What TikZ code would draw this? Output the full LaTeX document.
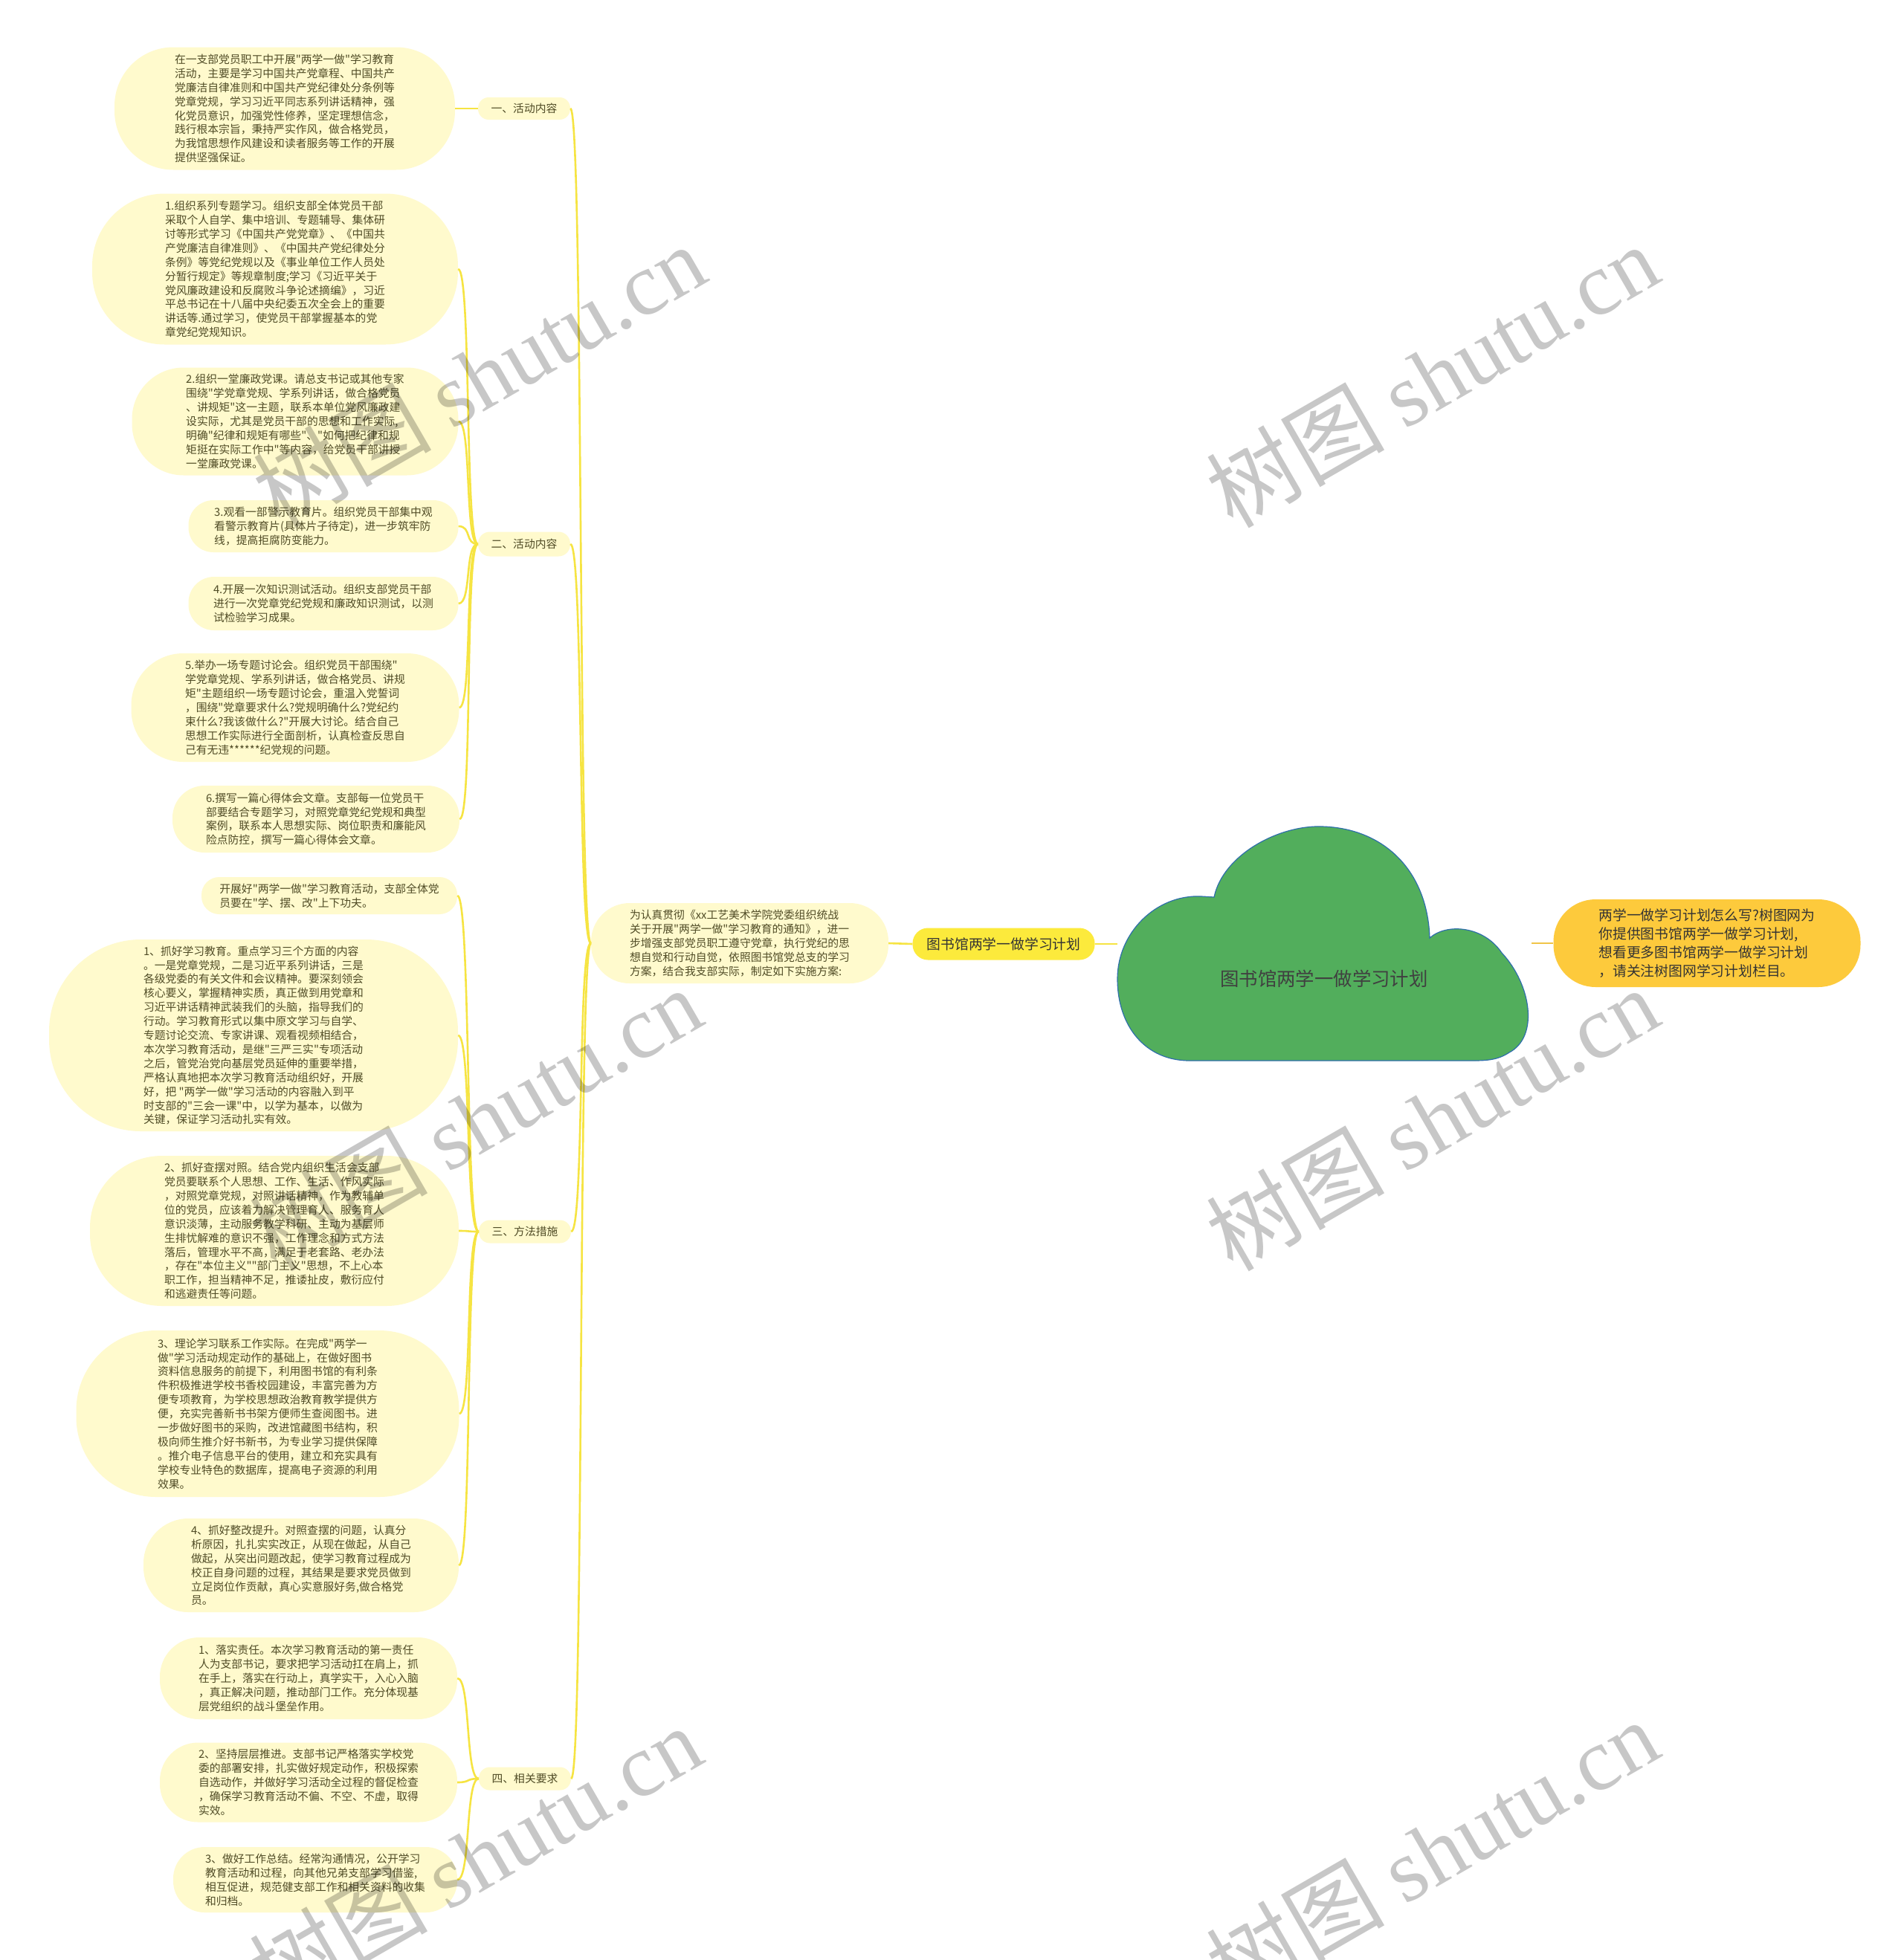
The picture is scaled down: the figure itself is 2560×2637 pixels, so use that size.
\documentclass[tikz,border=0pt]{standalone}
\usepackage{fontspec}
\setmainfont{Noto Sans CJK SC}[Ligatures=TeXOff]
\newfontfamily\wmlatin{Liberation Serif}
\definecolor{leafbg}{RGB}{255,250,205}
\definecolor{leaftxt}{RGB}{80,76,38}
\definecolor{edgeyel}{RGB}{246,228,66}
\definecolor{edgeorg}{RGB}{240,196,72}
\definecolor{titlebg}{RGB}{252,234,60}
\definecolor{notebg}{RGB}{253,202,60}
\definecolor{cloudgreen}{RGB}{82,174,92}
\definecolor{cloudline}{RGB}{46,110,170}

\begin{document}
\begin{tikzpicture}[x=1pt, y=-1pt,
    leaf/.style={
        fill=leafbg, text=leaftxt, align=left, inner sep=0pt,
        font=\fontsize{14.8}{18.9}\selectfont
    },
    pill/.style 2 args={
        minimum width=#1pt, minimum height=#2pt, rounded corners=0.48*#2pt
    },
    title_box/.style={
        fill=titlebg, text=black!80, inner sep=0pt,
        font=\fontsize{18.8}{25}\selectfont
    },
    note_box/.style={
        fill=notebg, text=black!80, align=left, inner sep=0pt,
        font=\fontsize{18.8}{25}\selectfont
    },
    root_txt/.style={text=black!75, font=\fontsize{25.4}{30}\selectfont},
    edge/.style={edgeyel, line width=2.6pt},
    edge_note/.style={edgeorg, line width=2.6pt},
    wmark/.style={rotate=30, text=black, text opacity=0.22,
        font=\fontsize{120}{120}\selectfont},
]
    \fill[white] (0,0) rectangle (2560,2637);
    \useasboundingbox (0,0) rectangle (2560,2637);

    % --- nube central ---
    \draw[cloudline, fill=cloudgreen, line width=1.2pt]
        (1633,1207) .. controls (1645,1150) and (1720,1110) .. (1778,1112)
        .. controls (1860,1114) and (1920,1170) .. (1923,1262)
        .. controls (1945,1242) and (1995,1245) .. (2020,1282)
        .. controls (2060,1325) and (2070,1395) .. (2030,1416)
        .. controls (2015,1426) and (2000,1427) .. (1981,1427)
        -- (1600,1427)
        .. controls (1540,1427) and (1503,1380) .. (1503,1317)
        .. controls (1503,1255) and (1555,1203) .. (1616,1206)
        -- cycle;
    \node[root_txt] (root) at (1781,1317) {图书馆两学一做学习计划};
    \coordinate (cloud_w) at (1503,1270);
    \coordinate (cloud_e) at (2060,1269);

    % --- centro y derecha ---
    \node[title_box, pill={245}{43}] (T) at (1350,1270) {图书馆两学一做学习计划};
    \node[note_box, pill={413}{118}] (R) at (2296,1269)
        {两学一做学习计划怎么写?树图网为\\你提供图书馆两学一做学习计划,\\想看更多图书馆两学一做学习计划\\，请关注树图网学习计划栏目。};
    \node[leaf, pill={400}{108}] (M) at (995,1269)
        {为认真贯彻《xx工艺美术学院党委组织统战\\关于开展"两学一做"学习教育的通知》，进一\\步增强支部党员职工遵守党章，执行党纪的思\\想自觉和行动自觉，依照图书馆党总支的学习\\方案，结合我支部实际，制定如下实施方案:};

    % --- ramas ---
    \node[leaf, pill={124}{30}] (L1) at (705,146) {一、活动内容};
    \node[leaf, pill={124}{33}] (L2) at (705,732) {二、活动内容};
    \node[leaf, pill={124}{31}] (L3) at (706,1657) {三、方法措施};
    \node[leaf, pill={124}{31}] (L4) at (706,2393) {四、相关要求};

    % --- hojas: uno ---
    \node[leaf, pill={458}{165}] (A1) at (383,146)
        {在一支部党员职工中开展"两学一做"学习教育\\活动，主要是学习中国共产党章程、中国共产\\党廉洁自律准则和中国共产党纪律处分条例等\\党章党规，学习习近平同志系列讲话精神，强\\化党员意识，加强党性修养，坚定理想信念，\\践行根本宗旨，秉持严实作风，做合格党员，\\为我馆思想作风建设和读者服务等工作的开展\\提供坚强保证。};

    % --- hojas: dos ---
    \node[leaf, pill={492}{203}] (B1) at (370,362)
        {1.组织系列专题学习。组织支部全体党员干部\\采取个人自学、集中培训、专题辅导、集体研\\讨等形式学习《中国共产党党章》、《中国共\\产党廉洁自律准则》、《中国共产党纪律处分\\条例》等党纪党规以及《事业单位工作人员处\\分暂行规定》等规章制度;学习《习近平关于\\党风廉政建设和反腐败斗争论述摘编》，习近\\平总书记在十八届中央纪委五次全会上的重要\\讲话等.通过学习，使党员干部掌握基本的党\\章党纪党规知识。};
    \node[leaf, pill={439}{145}] (B2) at (397,567)
        {2.组织一堂廉政党课。请总支书记或其他专家\\围绕"学党章党规、学系列讲话，做合格党员\\、讲规矩"这一主题，联系本单位党风廉政建\\设实际，尤其是党员干部的思想和工作实际,\\明确"纪律和规矩有哪些"、"如何把纪律和规\\矩挺在实际工作中"等内容，给党员干部讲授\\一堂廉政党课。};
    \node[leaf, pill={363}{70}] (B3) at (435,708)
        {3.观看一部警示教育片。组织党员干部集中观\\看警示教育片(具体片子待定)，进一步筑牢防\\线，提高拒腐防变能力。};
    \node[leaf, pill={363}{72}] (B4) at (435,812)
        {4.开展一次知识测试活动。组织支部党员干部\\进行一次党章党纪党规和廉政知识测试，以测\\试检验学习成果。};
    \node[leaf, pill={441}{146}] (B5) at (397,952)
        {5.举办一场专题讨论会。组织党员干部围绕"\\学党章党规、学系列讲话，做合格党员、讲规\\矩"主题组织一场专题讨论会，重温入党誓词\\，围绕"党章要求什么?党规明确什么?党纪约\\束什么?我该做什么?"开展大讨论。结合自己\\思想工作实际进行全面剖析，认真检查反思自\\己有无违******纪党规的问题。};
    \node[leaf, pill={386}{90}] (B6) at (425,1102)
        {6.撰写一篇心得体会文章。支部每一位党员干\\部要结合专题学习，对照党章党纪党规和典型\\案例，联系本人思想实际、岗位职责和廉能风\\险点防控，撰写一篇心得体会文章。};

    % --- hojas: tres ---
    \node[leaf, pill={344}{50}] (C0) at (443,1205)
        {开展好"两学一做"学习教育活动，支部全体党\\员要在"学、摆、改"上下功夫。};
    \node[leaf, pill={550}{258}] (C1) at (341,1393)
        {1、抓好学习教育。重点学习三个方面的内容\\。一是党章党规，二是习近平系列讲话，三是\\各级党委的有关文件和会议精神。要深刻领会\\核心要义，掌握精神实质，真正做到用党章和\\习近平讲话精神武装我们的头脑，指导我们的\\行动。学习教育形式以集中原文学习与自学、\\专题讨论交流、专家讲课、观看视频相结合，\\本次学习教育活动，是继"三严三实"专项活动\\之后，管党治党向基层党员延伸的重要举措，\\严格认真地把本次学习教育活动组织好，开展\\好，把 "两学一做"学习活动的内容融入到平\\时支部的"三会一课"中，以学为基本，以做为\\关键，保证学习活动扎实有效。};
    \node[leaf, pill={496}{202}] (C2) at (369,1656)
        {2、抓好查摆对照。结合党内组织生活会支部\\党员要联系个人思想、工作、生活、作风实际\\，对照党章党规，对照讲话精神，作为教辅单\\位的党员，应该着力解决管理育人、服务育人\\意识淡薄，主动服务教学科研、主动为基层师\\生排忧解难的意识不强，工作理念和方式方法\\落后，管理水平不高，满足于老套路、老办法\\，存在"本位主义""部门主义"思想，不上心本\\职工作，担当精神不足，推诿扯皮，敷衍应付\\和逃避责任等问题。};
    \node[leaf, pill={515}{224}] (C3) at (360,1902)
        {3、理论学习联系工作实际。在完成"两学一\\做"学习活动规定动作的基础上，在做好图书\\资料信息服务的前提下，利用图书馆的有利条\\件积极推进学校书香校园建设，丰富完善为方\\便专项教育，为学校思想政治教育教学提供方\\便，充实完善新书书架方便师生查阅图书。进\\一步做好图书的采购，改进馆藏图书结构，积\\极向师生推介好书新书，为专业学习提供保障\\。推介电子信息平台的使用，建立和充实具有\\学校专业特色的数据库，提高电子资源的利用\\效果。};
    \node[leaf, pill={424}{126}] (C4) at (405,2106)
        {4、抓好整改提升。对照查摆的问题，认真分\\析原因，扎扎实实改正，从现在做起，从自己\\做起，从突出问题改起，使学习教育过程成为\\校正自身问题的过程，其结果是要求党员做到\\立足岗位作贡献，真心实意服好务,做合格党\\员。};

    % --- hojas: cuatro ---
    \node[leaf, pill={400}{110}] (D1) at (415,2258)
        {1、落实责任。本次学习教育活动的第一责任\\人为支部书记，要求把学习活动扛在肩上，抓\\在手上，落实在行动上，真学实干，入心入脑\\，真正解决问题，推动部门工作。充分体现基\\层党组织的战斗堡垒作用。};
    \node[leaf, pill={400}{107}] (D2) at (415,2398)
        {2、坚持层层推进。支部书记严格落实学校党\\委的部署安排，扎实做好规定动作，积极探索\\自选动作，并做好学习活动全过程的督促检查\\，确保学习教育活动不偏、不空、不虚，取得\\实效。};
    \node[leaf, pill={382}{88}] (D3) at (424,2529)
        {3、做好工作总结。经常沟通情况，公开学习\\教育活动和过程，向其他兄弟支部学习借鉴,\\相互促进，规范健支部工作和相关资料的收集\\和归档。};

    % --- conexiones ---
    \draw[edge] (M.east) -- (T.west);
    \draw[edge] (T.east) -- (cloud_w);
    \draw[edge_note] (cloud_e) -- (R.west);
    \foreach \lb in {L1,L2,L3,L4}
        \draw[edge] (\lb.east) .. controls +(18,0) and +(-18,0) .. (M.west);
    \draw[edge] (A1.east) -- (L1.west);
    \foreach \lf in {B1,B2,B3,B4,B5,B6}
        \draw[edge] (\lf.east) .. controls +(18,0) and +(-18,0) .. (L2.west);
    \foreach \lf in {C0,C1,C2,C3,C4}
        \draw[edge] (\lf.east) .. controls +(18,0) and +(-18,0) .. (L3.west);
    \foreach \lf in {D1,D2,D3}
        \draw[edge] (\lf.east) .. controls +(18,0) and +(-18,0) .. (L4.west);

    % --- marcas de agua ---
    \node[wmark] (wm1) at (644,505) {树图 {\wmlatin shutu.cn}};
    \node[wmark] (wm2) at (1926,505) {树图 {\wmlatin shutu.cn}};
    \node[wmark] (wm3) at (639,1505) {树图 {\wmlatin shutu.cn}};
    \node[wmark] (wm4) at (1926,1505) {树图 {\wmlatin shutu.cn}};
    \node[wmark] (wm5) at (639,2498) {树图 {\wmlatin shutu.cn}};
    \node[wmark] (wm6) at (1926,2490) {树图 {\wmlatin shutu.cn}};

\end{tikzpicture}
\end{document}
